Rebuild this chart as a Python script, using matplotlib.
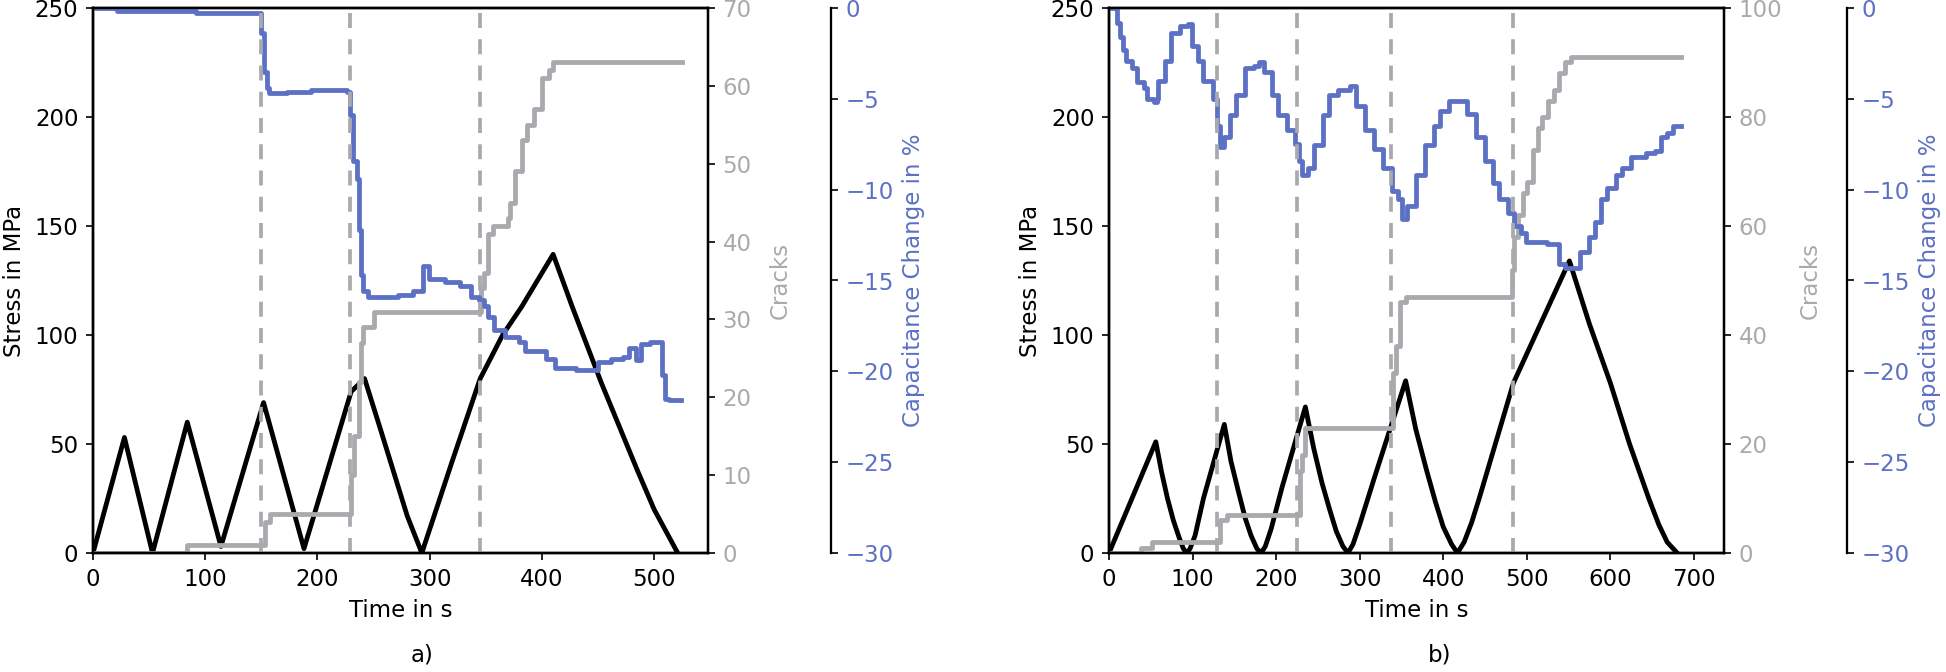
import numpy as np
import matplotlib
matplotlib.use("Agg")
import matplotlib.pyplot as plt

# colours
BLUE = '#5c70c4'
GREY = '#a8aaae'

# ---- panel a) data ----
a_stress_t = [0, 28, 53, 84, 114, 152, 188, 230, 242, 256, 268, 280, 293,
              320, 345, 365, 382, 410, 427, 453, 485, 500, 521]
a_stress = [0, 53, 0, 60, 3, 69, 2, 74, 80, 57, 37, 17, 0,
            42, 80, 100, 113, 137, 113, 78, 38, 20, 0]

a_cracks_t = [0, 84, 150, 153, 158, 228, 230, 233, 237, 239, 241, 250, 344, 346, 348,
              352, 356, 370, 372, 376, 382, 387, 393, 400, 406, 410, 525]
a_cracks = [0, 1, 1, 4, 5, 5, 10, 15, 22, 27, 29, 31, 31, 34, 36,
            41, 42, 43, 45, 49, 53, 55, 57, 61, 62, 63, 63]

a_cap_t = [0, 21, 92, 150, 152, 155, 157, 173, 194, 226, 229, 232, 235, 237, 239, 241,
           245, 272, 285, 294, 299, 314, 327, 337, 344, 348, 352, 357, 367, 380, 385,
           404, 412, 430, 450, 462, 472, 478, 484, 488, 496, 507, 510, 513, 524]
a_cap = [0, -0.15, -0.3, -1.4, -3.5, -4.4, -4.7, -4.6, -4.5, -4.6, -5.9, -8.4, -9.4,
         -12.2, -14.7, -15.6, -15.9, -15.8, -15.6, -14.2, -14.9, -15.1, -15.3, -15.9,
         -16.1, -16.4, -17.0, -17.7, -18.1, -18.4, -18.9, -19.3, -19.8, -19.9, -19.5,
         -19.3, -19.2, -18.7, -19.4, -18.5, -18.4, -20.2, -21.5, -21.6, -21.6]

a_events = [150, 229, 345]

# ---- panel b) data ----
b_stress_t = [0, 56, 63, 70, 77, 84, 89, 93,
              97, 103, 113, 138, 146, 155, 163, 170, 177, 182,
              187, 194, 207, 235, 245, 255, 264, 272, 280, 286,
              292, 300, 318, 355, 367, 380, 391, 400, 410, 417,
              425, 434, 443, 484, 551, 575, 600, 623, 646, 658, 668, 680]
b_stress = [0, 51, 37, 25, 15, 7, 2, 0,
            2, 8, 25, 59, 42, 28, 16, 8, 2, 0,
            3, 11, 30, 67, 48, 32, 20, 10, 3, 0,
            4, 13, 35, 79, 57, 38, 23, 12, 4, 0,
            5, 14, 25, 78, 134, 105, 78, 50, 25, 13, 5, 0]

b_cracks_t = [0, 38, 45, 52, 129, 133, 141, 225, 228, 231, 235, 338, 340, 343, 348, 355,
              482, 485, 489, 496, 500, 507, 514, 518, 525, 532, 539, 546, 553, 684]
b_cracks = [0, 1, 1, 2, 2, 6, 7, 7, 15, 18, 23, 23, 33, 38, 46, 47,
            52, 58, 62, 66, 68, 74, 78, 80, 83, 85, 88, 90, 91, 91]

b_cap_t = [0, 9, 13, 16.5, 20, 27, 33, 41.5, 45, 54, 57, 59, 66.6, 73.7, 84.5, 95, 99,
           106, 113, 124, 129, 133, 138, 145, 152.5, 163, 174, 179, 185, 195, 202.6,
           213, 222, 227.6, 231, 238, 245.5, 256, 263.4, 274, 288.5, 295.6, 306, 317,
           328, 338.6, 345.7, 350.7, 356.5, 367, 378, 388.7, 396, 406.6, 421, 428,
           439, 449.5, 460, 467, 478, 485, 492.5, 499.6, 524.6, 539, 546, 560.6, 564,
           575, 582, 589, 596, 607, 614.5, 625, 643, 654, 661, 668, 675, 684]
b_cap = [0, -0.8, -1.6, -2.3, -2.9, -3.3, -4.1, -4.4, -5.0, -5.2, -5.0, -4.0, -2.9,
         -1.4, -1.0, -0.9, -2.1, -2.9, -4.0, -5.0, -6.5, -7.65, -7.1, -5.9, -4.8,
         -3.3, -3.2, -3.0, -3.5, -4.8, -5.9, -6.7, -7.5, -8.4, -9.2, -8.8, -7.55,
         -5.9, -4.8, -4.5, -4.3, -5.4, -6.7, -7.76, -8.8, -10.1, -10.5, -11.6, -10.9,
         -9.2, -7.55, -6.5, -5.65, -5.1, -5.1, -5.86, -7.1, -8.4, -9.66, -10.5, -11.3,
         -12.0, -12.4, -12.9, -13.0, -14.1, -14.3, -14.3, -13.45, -12.6, -11.8, -10.5,
         -9.9, -9.2, -8.8, -8.2, -7.97, -7.87, -7.1, -6.9, -6.5, -6.5]

b_events = [129, 225, 338, 484]

plt.rcParams['font.family'] = 'DejaVu Sans'
plt.rcParams['font.size'] = 11

fig = plt.figure(figsize=(1946 / 150, 672 / 150), dpi=150)


def draw_panel(rect, st_t, st, cr_t, cr, cp_t, cp, events, xmax, xticks,
               crmax, crticks, caption, cap_x):
    ax = fig.add_axes(rect)
    ax.plot(st_t, st, color='black', lw=2.3, zorder=3)
    ax.set_xlim(0, xmax)
    ax.set_ylim(0, 250)
    ax.set_xticks(xticks)
    ax.set_yticks(range(0, 251, 50))
    ax.set_xlabel('Time in s')
    ax.set_ylabel('Stress in MPa')

    ax2 = ax.twinx()
    ax2.step(cr_t, cr, where='post', color=GREY, lw=2.3)
    ax2.set_ylim(0, crmax)
    ax2.set_yticks(crticks)
    ax2.set_ylabel('Cracks', color=GREY, labelpad=8)
    ax2.tick_params(axis='y', labelcolor=GREY)

    ax3 = ax.twinx()
    ax3.spines['right'].set_position(('axes', 1.2))
    ax3.step(cp_t, cp, where='post', color=BLUE, lw=2.3)
    ax3.set_ylim(-30, 0)
    ax3.set_yticks(range(-30, 1, 5))
    ax3.set_ylabel('Capacitance Change in %', color=BLUE)
    ax3.tick_params(axis='y', labelcolor=BLUE)
    for e in events:
        ax3.axvline(e, color=GREY, lw=1.8, ls=(0, (4, 3)))
    for a in (ax, ax2, ax3):
        for s in a.spines.values():
            s.set_linewidth(1.1)
    fig.text(cap_x, 0.025, caption, ha='center', va='center')


draw_panel([93 / 1946, 119 / 672, 615 / 1946, 545 / 672],
           a_stress_t, a_stress, a_cracks_t, a_cracks, a_cap_t, a_cap,
           a_events, 548, range(0, 501, 100), 70, range(0, 71, 10), 'a)', 422 / 1946)
draw_panel([1109 / 1946, 119 / 672, 615 / 1946, 545 / 672],
           b_stress_t, b_stress, b_cracks_t, b_cracks, b_cap_t, b_cap,
           b_events, 736, range(0, 701, 100), 100, range(0, 101, 20), 'b)', 1440 / 1946)

fig.savefig('out.png', dpi=150)
